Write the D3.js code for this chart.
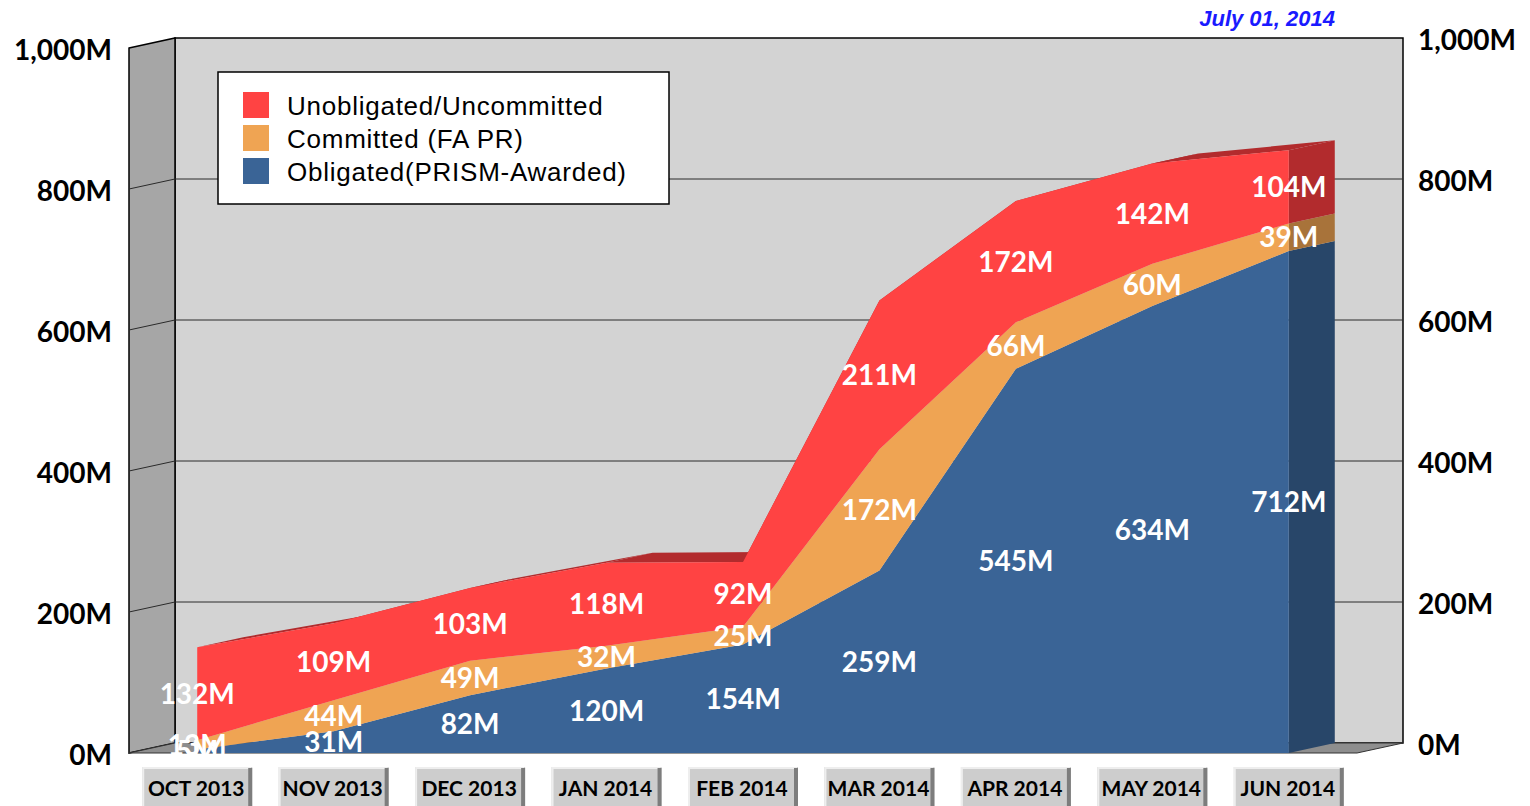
<!DOCTYPE html>
<html>
<head>
<meta charset="utf-8">
<script src="https://cdn.jsdelivr.net/npm/d3@7"></script>
<style>
  body { margin: 0; background: #fff; }
  svg { display: block; }
</style>
</head>
<body>
<div id="chart"></div>
<script>
// data (millions)
var months = ["OCT 2013", "NOV 2013", "DEC 2013", "JAN 2014", "FEB 2014", "MAR 2014", "APR 2014", "MAY 2014", "JUN 2014"];
var obligated   = [5, 31, 82, 120, 154, 259, 545, 634, 712];
var committed   = [13, 44, 49, 32, 25, 172, 66, 60, 39];
var unobligated = [132, 109, 103, 118, 92, 211, 172, 142, 104];
var yTicks = [0, 200, 400, 600, 800, 1000];
var seriesNames = ["Obligated(PRISM-Awarded)", "Committed (FA PR)", "Unobligated/Uncommitted"];
var dateText = "July 01, 2014";

var W = 1530, H = 806;
var depth = { dx: 46, dy: -10 }; // offset from front plane to back wall
var front = { left: 129, right: 1357, bottom: 753, top: 48 };

var faceColors = ["#3a6496", "#efa453", "#ff4343"];
var sideColors = ["#284669", "#a8733a", "#b22b2d"];

var svg = d3.select("#chart").append("svg")
    .attr("width", W)
    .attr("height", H);

var x = d3.scaleBand()
    .domain(months)
    .range([front.left, front.right]);
var cx = function(m) { return x(m) + x.bandwidth() / 2; };

var y = d3.scaleLinear().domain([0, 1000]).range([front.bottom, front.top]);
var yBack = d3.scaleLinear().domain([0, 1000]).range([front.bottom + depth.dy, front.top + depth.dy]);

var bx0 = front.left + depth.dx, bx1 = front.right + depth.dx;

// back wall
svg.append("rect")
    .attr("x", bx0).attr("y", yBack(1000))
    .attr("width", bx1 - bx0).attr("height", yBack(0) - yBack(1000))
    .attr("fill", "#d3d3d3").attr("stroke", "#000").attr("stroke-width", 1.5);

// left wall
svg.append("polygon")
    .attr("points", [[front.left, y(1000)], [bx0, yBack(1000)], [bx0, yBack(0)], [front.left, y(0)]].join(" "))
    .attr("fill", "#a6a6a6").attr("stroke", "#000").attr("stroke-width", 1.5);

// floor
svg.append("polygon")
    .attr("points", [[bx0, yBack(0)], [bx1, yBack(0)], [front.right, y(0)], [front.left, y(0)]].join(" "))
    .attr("fill", "#8e8e8e").attr("stroke", "#333").attr("stroke-width", 1);

// gridlines
var grid = svg.append("g").attr("stroke", "#2a2a2a").attr("stroke-width", 1);
yTicks.filter(function(t) { return t > 0 && t < 1000; }).forEach(function(t) {
    grid.append("line").attr("x1", bx0).attr("x2", bx1).attr("y1", yBack(t)).attr("y2", yBack(t));
    grid.append("line").attr("x1", front.left).attr("x2", bx0).attr("y1", y(t)).attr("y2", yBack(t));
});

// stacked data
var table = months.map(function(m, i) {
    return { month: m, obligated: obligated[i], committed: committed[i], unobligated: unobligated[i] };
});
var keys = ["obligated", "committed", "unobligated"];
var stack = d3.stack().keys(keys)(table);

var area = d3.area()
    .x(function(d) { return cx(d.data.month); })
    .y0(function(d) { return y(d[0]); })
    .y1(function(d) { return y(d[1]); });

var solid = svg.append("g");
var last = months.length - 1;

// top face of the whole stack
var topLayer = stack[stack.length - 1];
for (var i = 0; i < last; i++) {
    var a = topLayer[i], b = topLayer[i + 1];
    var xa = cx(a.data.month), xb = cx(b.data.month);
    solid.append("polygon")
        .attr("points", [[xa, y(a[1])], [xb, y(b[1])], [xb + depth.dx, y(b[1]) + depth.dy], [xa + depth.dx, y(a[1]) + depth.dy]].join(" "))
        .attr("fill", sideColors[2]);
}

// right side faces
stack.forEach(function(layer, s) {
    var d = layer[last], xr = cx(d.data.month);
    solid.append("polygon")
        .attr("points", [[xr, y(d[0])], [xr, y(d[1])], [xr + depth.dx, y(d[1]) + depth.dy], [xr + depth.dx, y(d[0]) + depth.dy]].join(" "))
        .attr("fill", sideColors[s]);
});

// front faces
solid.selectAll("path.front")
    .data(stack)
    .enter().append("path")
    .attr("class", "front")
    .attr("d", area)
    .attr("fill", function(d, s) { return faceColors[s]; });

// y axes
var fmt = function(d) { return d3.format(",")(d) + "M"; };
var leftAxis = svg.append("g")
    .attr("transform", "translate(" + front.left + ",0)")
    .call(d3.axisLeft(y).tickValues(yTicks).tickFormat(fmt).tickSize(0).tickPadding(17));
var rightAxis = svg.append("g")
    .attr("transform", "translate(" + bx1 + ",0)")
    .call(d3.axisRight(yBack).tickValues(yTicks).tickFormat(fmt).tickSize(0).tickPadding(15));
[leftAxis, rightAxis].forEach(function(g) {
    g.select(".domain").remove();
    g.selectAll("text")
        .attr("dy", "0.4em")
        .attr("font-family", "Lato, 'Open Sans', sans-serif")
        .attr("font-weight", "bold")
        .attr("font-size", 28)
        .attr("fill", "#000");
});

// data labels
var labels = svg.append("g")
    .attr("font-family", "Lato, 'Open Sans', sans-serif")
    .attr("font-weight", "bold")
    .attr("font-size", 28)
    .attr("fill", "#fff")
    .attr("text-anchor", "middle");
stack.forEach(function(layer) {
    layer.forEach(function(d) {
        labels.append("text")
            .attr("x", cx(d.data.month))
            .attr("y", (y(d[0]) + y(d[1])) / 2)
            .attr("dy", "0.36em")
            .text((d[1] - d[0]) + "M");
    });
});

// category buttons
var bw = 110;
var btn = svg.append("g").selectAll("g")
    .data(months)
    .enter().append("g")
    .attr("transform", function(m) { return "translate(" + (cx(m) - bw / 2) + ",767)"; });
btn.append("rect")
    .attr("width", bw).attr("height", 45)
    .attr("fill", "#cdcdcd");
btn.append("polyline")
    .attr("points", "1,45 1,1 " + (bw - 1) + ",1")
    .attr("fill", "none").attr("stroke", "#eeeeee").attr("stroke-width", 2);
btn.append("line")
    .attr("x1", bw - 2).attr("x2", bw - 2).attr("y1", 1).attr("y2", 45)
    .attr("stroke", "#7d7d7d").attr("stroke-width", 4);
btn.append("text")
    .attr("x", bw / 2 - 1).attr("y", 29)
    .attr("text-anchor", "middle")
    .attr("font-family", "Lato, 'Open Sans', sans-serif")
    .attr("font-weight", "bold")
    .attr("font-size", 21)
    .attr("fill", "#000")
    .text(function(m) { return m; });

// legend
var legend = svg.append("g").attr("transform", "translate(218,72)");
legend.append("rect")
    .attr("width", 451).attr("height", 132)
    .attr("fill", "#fff").attr("stroke", "#000").attr("stroke-width", 1.5);
var legendOrder = [2, 1, 0];
legendOrder.forEach(function(s, i) {
    legend.append("rect")
        .attr("x", 25).attr("y", 20 + i * 33)
        .attr("width", 26).attr("height", 26)
        .attr("fill", faceColors[s]);
    legend.append("text")
        .attr("x", 69).attr("y", 43 + i * 33)
        .attr("font-family", "'Liberation Sans', Arial, sans-serif")
        .attr("font-size", 26)
        .attr("letter-spacing", 0.75)
        .attr("fill", "#000")
        .text(seriesNames[s]);
});

// date
svg.append("text")
    .attr("x", 1335).attr("y", 26)
    .attr("text-anchor", "end")
    .attr("font-family", "'Liberation Sans', Arial, sans-serif")
    .attr("font-weight", "bold")
    .attr("font-style", "italic")
    .attr("font-size", 22)
    .attr("fill", "#1a1aff")
    .text(dateText);
</script>
</body>
</html>
